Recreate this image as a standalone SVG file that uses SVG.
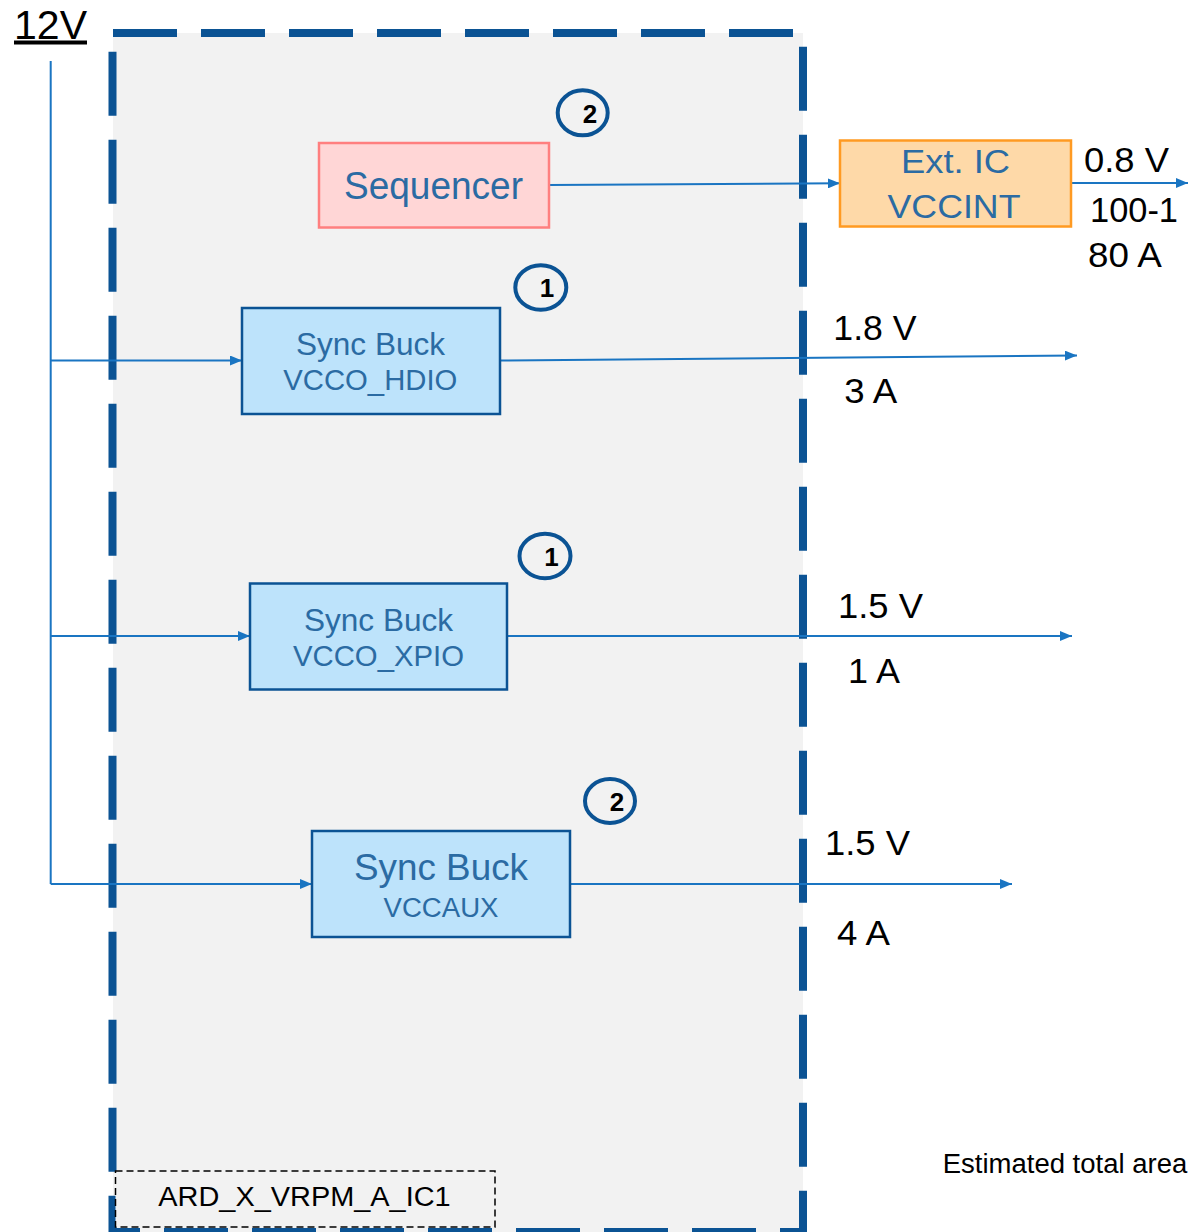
<svg xmlns="http://www.w3.org/2000/svg" width="1189" height="1232" viewBox="0 0 1189 1232">
<defs>
<marker id="arr" viewBox="0 0 12 10" refX="12" refY="5" markerWidth="12" markerHeight="10" markerUnits="userSpaceOnUse" orient="auto">
<path d="M0,0 L12,5 L0,10 z" fill="#1a75c2"/>
</marker>
<style>
text{font-family:"Liberation Sans",Arial,sans-serif}
.conn{stroke:#1a75c2;stroke-width:2;fill:none}
.border{stroke:#0b5394;stroke-width:8;fill:none;stroke-dasharray:64 24}
.buck{fill:#bde3fb;stroke:#0b5394;stroke-width:2.5}
.ntext{fill:#2b6ba3}
.lbl{fill:#000;font-size:35px}
.badge{fill:none;stroke:#0b5394;stroke-width:4}
.bnum{font-weight:bold;font-size:26px;fill:#000}
</style>
</defs>
<rect width="1189" height="1232" fill="#ffffff"/>
<g id="board">
<rect x="113" y="33" width="690" height="1199" fill="#f2f2f2"/>
<line class="border" x1="113" y1="33" x2="803" y2="33"/>
<line class="border" x1="803" y1="46.8" x2="803" y2="1232"/>
<line class="border" x1="803" y1="1232" x2="109" y2="1232" stroke-dashoffset="41"/>
<line class="border" x1="112.5" y1="51.8" x2="112.5" y2="1232"/>
</g>
<g id="label-12v">
<text x="14" y="38.5" font-size="40" text-decoration="underline" fill="#000" textLength="73" lengthAdjust="spacingAndGlyphs">12V</text>
</g>
<g id="connectors">
<line class="conn" x1="50.7" y1="61" x2="50.7" y2="884"/>
<line class="conn" x1="50.7" y1="360.5" x2="242" y2="360.5" marker-end="url(#arr)"/>
<line class="conn" x1="50.7" y1="636" x2="250" y2="636" marker-end="url(#arr)"/>
<line class="conn" x1="50.7" y1="884" x2="312" y2="884" marker-end="url(#arr)"/>
<line class="conn" x1="549" y1="185" x2="840" y2="183.3" marker-end="url(#arr)"/>
<line class="conn" x1="1071" y1="183" x2="1188" y2="183" marker-end="url(#arr)"/>
<line class="conn" x1="500" y1="360.5" x2="1077" y2="355.5" marker-end="url(#arr)"/>
<line class="conn" x1="507" y1="636" x2="1072" y2="636" marker-end="url(#arr)"/>
<line class="conn" x1="570" y1="884" x2="1012" y2="884" marker-end="url(#arr)"/>
</g>
<g id="sequencer">
<rect x="319" y="143" width="230" height="84.5" fill="#ffd6d6" stroke="#ff7f7f" stroke-width="2.5"/>
<text class="ntext" x="433.5" y="199.3" font-size="38" text-anchor="middle" textLength="179" lengthAdjust="spacingAndGlyphs">Sequencer</text>
</g>
<g id="badge-seq">
<ellipse class="badge" cx="582.7" cy="112.8" rx="25" ry="22.5"/>
<text class="bnum" x="590" y="123" text-anchor="middle">2</text>
</g>
<g id="ext-ic">
<rect x="840" y="140.5" width="231" height="86" fill="#fed9a8" stroke="#ff9a22" stroke-width="2.5"/>
<text class="ntext" x="955.5" y="173" font-size="34" text-anchor="middle" textLength="109" lengthAdjust="spacingAndGlyphs">Ext. IC</text>
<text class="ntext" x="954" y="218" font-size="34" text-anchor="middle" textLength="133" lengthAdjust="spacingAndGlyphs">VCCINT</text>
</g>
<g id="ext-labels">
<text class="lbl" x="1084" y="171.7" textLength="85" lengthAdjust="spacingAndGlyphs">0.8 V</text>
<text class="lbl" x="1090" y="221.7" textLength="88" lengthAdjust="spacingAndGlyphs">100-1</text>
<text class="lbl" x="1088" y="266.7" textLength="73.7" lengthAdjust="spacingAndGlyphs">80 A</text>
</g>
<g id="buck-hdio">
<rect class="buck" x="242" y="308" width="258" height="106"/>
<text class="ntext" x="370.5" y="355" font-size="31" text-anchor="middle" textLength="149" lengthAdjust="spacingAndGlyphs">Sync Buck</text>
<text class="ntext" x="370.3" y="390" font-size="30" text-anchor="middle" textLength="174" lengthAdjust="spacingAndGlyphs">VCCO_HDIO</text>
</g>
<g id="badge-hdio">
<ellipse class="badge" cx="540.8" cy="287.5" rx="25.5" ry="22.2"/>
<text class="bnum" x="547" y="297" text-anchor="middle">1</text>
</g>
<g id="hdio-labels">
<text class="lbl" x="833.3" y="340" textLength="83.3" lengthAdjust="spacingAndGlyphs">1.8 V</text>
<text class="lbl" x="844.3" y="402.7" textLength="53" lengthAdjust="spacingAndGlyphs">3 A</text>
</g>
<g id="buck-xpio">
<rect class="buck" x="250" y="583.5" width="257" height="106"/>
<text class="ntext" x="378.5" y="631" font-size="31" text-anchor="middle" textLength="149" lengthAdjust="spacingAndGlyphs">Sync Buck</text>
<text class="ntext" x="378.5" y="666" font-size="30" text-anchor="middle" textLength="171" lengthAdjust="spacingAndGlyphs">VCCO_XPIO</text>
</g>
<g id="badge-xpio">
<ellipse class="badge" cx="545" cy="556" rx="25.5" ry="22.2"/>
<text class="bnum" x="551.5" y="565.5" text-anchor="middle">1</text>
</g>
<g id="xpio-labels">
<text class="lbl" x="838" y="618" textLength="85" lengthAdjust="spacingAndGlyphs">1.5 V</text>
<text class="lbl" x="848" y="683" textLength="52" lengthAdjust="spacingAndGlyphs">1 A</text>
</g>
<g id="buck-aux">
<rect class="buck" x="312" y="831" width="258" height="106"/>
<text class="ntext" x="441" y="880" font-size="36" text-anchor="middle" textLength="174" lengthAdjust="spacingAndGlyphs">Sync Buck</text>
<text class="ntext" x="441" y="916.7" font-size="27" text-anchor="middle" textLength="115" lengthAdjust="spacingAndGlyphs">VCCAUX</text>
</g>
<g id="badge-aux">
<ellipse class="badge" cx="610" cy="801" rx="25" ry="22"/>
<text class="bnum" x="617" y="811" text-anchor="middle">2</text>
</g>
<g id="aux-labels">
<text class="lbl" x="825" y="855" textLength="85" lengthAdjust="spacingAndGlyphs">1.5 V</text>
<text class="lbl" x="837" y="945" textLength="53" lengthAdjust="spacingAndGlyphs">4 A</text>
</g>
<g id="ic-label">
<rect x="115.5" y="1171" width="379.5" height="56" fill="#f2f2f2" stroke="#000" stroke-width="1.5" stroke-dasharray="7 4"/>
<text x="158.3" y="1205.7" font-size="27" fill="#000" textLength="292.4" lengthAdjust="spacingAndGlyphs">ARD_X_VRPM_A_IC1</text>
</g>
<g id="total-area">
<text x="942.7" y="1172.7" font-size="27" fill="#000" textLength="244.6" lengthAdjust="spacingAndGlyphs">Estimated total area</text>
</g>
</svg>
